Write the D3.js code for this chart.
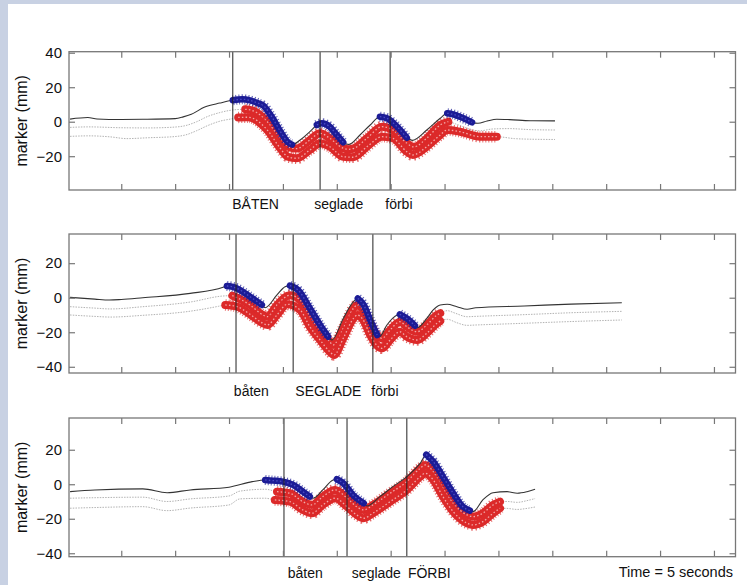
<!DOCTYPE html>
<html>
<head>
<meta charset="utf-8">
<script src="https://cdn.jsdelivr.net/npm/d3@7"></script>
<style>
  html, body { margin: 0; padding: 0; }
  body { width: 747px; height: 585px; overflow: hidden; background: #c8d1e3; }
  text { font-family: "Liberation Sans", Arial, Helvetica, sans-serif; fill: #111; }
</style>
</head>
<body>
<svg id="fig" width="747" height="585"></svg>
<script>
// tick positions (unlabelled time ticks) and y ticks
var xTicks = [1, 2, 3, 4, 5, 6, 7, 8, 9, 10, 11, 12];
var yTicks = [-40, -20, 0, 20, 40];

// ---- panel 1 ----
var p1Top = [[0.05,1.5],[0.38,2.4],[0.55,1.6],[1.0,1.3],[1.4,1.4],[2.0,1.8],[2.15,2.8],[2.3,4.3],[2.55,8.5],[2.83,10.8],[3.07,12.4],[3.25,13.0],[3.39,12.4],[3.55,10.6],[3.63,9.5],[3.8,2.5],[3.95,-5.5],[4.09,-11.8],[4.17,-13.3],[4.32,-10.6],[4.5,-5.8],[4.63,-1.9],[4.72,-0.9],[4.87,-2.9],[5.0,-7.7],[5.12,-12.0],[5.22,-13.2],[5.43,-7.7],[5.62,-1.9],[5.8,2.9],[5.93,2.0],[6.12,-2.9],[6.3,-9.3],[6.4,-10.8],[6.67,-4.8],[6.92,2.0],[7.05,4.9],[7.16,4.3],[7.35,2.0],[7.51,-0.4],[7.62,-0.9],[7.79,0.4],[7.97,1.4],[8.21,1.2],[8.59,0.6],[9.05,0.5]];
var p1Mid = [[0.05,-3.3],[0.4,-3.0],[1.0,-3.5],[1.5,-3.6],[2.0,-3.1],[2.2,-2.2],[2.4,0.0],[2.6,3.0],[2.83,5.3],[3.07,6.8],[3.3,7.2],[3.45,6.3],[3.71,0.0],[3.95,-9.6],[4.12,-14.8],[4.26,-15.6],[4.5,-10.6],[4.69,-6.7],[4.87,-9.6],[5.12,-15.4],[5.22,-16.0],[5.32,-15.4],[5.56,-9.6],[5.84,-2.9],[6.04,-4.8],[6.3,-12.5],[6.43,-14.6],[6.67,-9.6],[6.92,-1.9],[7.07,0.0],[7.2,-1.2],[7.5,-4.6],[7.65,-5.3],[7.9,-4.2],[8.2,-4.0],[8.6,-4.6],[9.05,-4.8]];
var p1Low = [[0.05,-8.5],[0.4,-8.2],[0.8,-8.8],[1.1,-9.8],[1.5,-9.3],[2.0,-8.6],[2.2,-7.6],[2.4,-5.2],[2.6,-2.3],[2.83,0.3],[3.07,1.8],[3.17,2.5],[3.35,2.6],[3.71,-4.8],[3.95,-15.4],[4.09,-20.3],[4.26,-21.2],[4.5,-16.4],[4.69,-12.5],[4.87,-14.5],[5.12,-20.3],[5.3,-20.6],[5.56,-14.5],[5.84,-8.7],[6.04,-9.6],[6.3,-17.4],[6.41,-19.3],[6.67,-14.5],[6.92,-7.7],[7.05,-4.8],[7.29,-5.8],[7.66,-8.7],[7.97,-8.7],[8.3,-9.8],[8.7,-10.2],[9.05,-10.3]];
var p1Blue = [[3.07,4.17],[4.63,5.12],[5.8,6.3],[7.05,7.51]];
var p1RedMid = [3.3, 7.07];
var p1RedLow = [3.17, 7.97];
var p1Events = [3.07, 4.69, 5.99];
var p1Words = ["BÅTEN", "seglade", "förbi"];
var p1WordT = [3.06, 4.58, 5.9];

// ---- panel 2 ----
var p2Top = [[0.05,0.2],[0.51,-0.8],[0.78,-1.3],[1.0,-1.0],[1.4,0.0],[2.28,2.5],[2.89,6.0],[2.96,6.8],[3.05,6.4],[3.15,5.4],[3.39,0.6],[3.61,-4.2],[3.67,-5.8],[3.89,1.6],[4.04,6.4],[4.13,7.0],[4.28,4.5],[4.5,-6.1],[4.69,-15.8],[4.84,-22.6],[4.91,-24.5],[5.12,-12.0],[5.31,-2.3],[5.39,-0.4],[5.5,-4.2],[5.62,-12.9],[5.75,-21.6],[5.79,-22.6],[5.93,-15.8],[6.12,-10.0],[6.17,-9.6],[6.3,-12.0],[6.45,-16.2],[6.49,-17.4],[6.67,-12.0],[6.79,-7.1],[6.92,-4.2],[7.05,-3.8],[7.23,-5.2],[7.42,-6.7],[7.58,-5.8],[8.48,-4.8],[9.35,-3.7],[10.29,-2.9]];
var p2Mid = [[0.05,-5.2],[0.5,-6.0],[0.8,-6.5],[1.4,-5.2],[2.28,-2.5],[2.89,1.0],[3.06,1.2],[3.15,0.0],[3.39,-4.2],[3.63,-10.0],[3.71,-11.0],[3.89,-4.2],[4.13,1.4],[4.32,-1.3],[4.5,-11.0],[4.69,-18.7],[4.87,-25.5],[4.93,-27.4],[5.12,-17.7],[5.31,-6.1],[5.38,-4.2],[5.49,-7.1],[5.62,-15.8],[5.77,-22.6],[5.84,-23.5],[5.99,-18.7],[6.17,-13.9],[6.3,-16.8],[6.49,-19.7],[6.67,-15.8],[6.86,-10.0],[6.92,-9.0],[7.05,-7.5],[7.2,-9.0],[7.42,-11.0],[7.58,-10.8],[8.48,-9.8],[9.35,-8.7],[10.29,-7.9]];
var p2Low = [[0.05,-10.0],[0.5,-10.8],[0.8,-11.2],[1.4,-10.2],[2.28,-7.8],[2.8,-5.0],[2.93,-4.2],[3.15,-5.2],[3.39,-9.6],[3.63,-14.8],[3.71,-15.8],[3.89,-10.0],[4.08,-3.8],[4.32,-7.1],[4.5,-16.8],[4.69,-24.5],[4.87,-31.3],[4.95,-33.2],[5.12,-23.5],[5.31,-12.0],[5.38,-10.0],[5.49,-12.9],[5.62,-21.6],[5.77,-28.4],[5.84,-29.3],[5.99,-24.5],[6.17,-19.7],[6.3,-22.6],[6.49,-24.5],[6.67,-20.6],[6.86,-14.8],[6.92,-13.5],[7.05,-12.5],[7.23,-14.5],[7.42,-16.0],[7.58,-15.8],[8.48,-14.8],[9.35,-13.8],[10.29,-12.9]];
var p2Blue = [[2.96,3.61],[4.13,4.84],[5.39,5.75],[6.17,6.45]];
var p2RedMid = [3.06, 6.92];
var p2RedLow = [2.93, 6.92];
var p2Events = [3.13, 4.19, 5.67];
var p2Words = ["båten", "SEGLADE", "förbi"];
var p2WordT = [3.09, 4.23, 5.64];

// ---- panel 3 ----
var p3Top = [[0.05,-4.3],[0.51,-3.3],[1.4,-2.7],[1.85,-4.9],[2.28,-3.3],[3.0,-1.7],[3.43,1.5],[3.67,2.5],[3.82,2.1],[4.0,1.5],[4.19,-0.4],[4.37,-4.3],[4.5,-7.2],[4.56,-8.1],[4.74,-3.3],[4.93,2.5],[5.0,2.9],[5.12,0.6],[5.3,-6.2],[5.5,-11.0],[5.56,-12.6],[5.8,-7.2],[6.04,-1.4],[6.3,4.4],[6.55,12.2],[6.66,17.2],[6.79,13.1],[6.97,4.4],[7.16,-5.2],[7.34,-13.0],[7.47,-15.3],[7.53,-15.9],[7.71,-9.1],[7.9,-4.9],[8.16,-4.3],[8.35,-5.2],[8.53,-4.3],[8.68,-2.9]];
var p3Mid = [[0.05,-8.1],[0.51,-7.8],[1.4,-7.5],[1.85,-10.0],[2.28,-8.5],[3.0,-6.8],[3.2,-4.0],[3.67,-2.9],[3.89,-4.3],[4.13,-5.2],[4.37,-10.1],[4.54,-12.0],[4.74,-7.2],[4.97,-3.3],[5.19,-8.1],[5.37,-13.0],[5.5,-14.9],[5.67,-12.0],[5.99,-5.2],[6.3,1.5],[6.55,9.3],[6.64,11.2],[6.79,7.3],[6.97,-2.3],[7.16,-11.0],[7.42,-17.8],[7.53,-18.8],[7.71,-16.8],[7.9,-12.0],[8.03,-10.1],[8.16,-10.0],[8.35,-10.5],[8.53,-9.5],[8.68,-8.3]];
var p3Low = [[0.05,-13.9],[0.51,-13.5],[1.4,-13.0],[1.85,-15.3],[2.28,-13.8],[3.0,-12.0],[3.2,-8.5],[3.67,-8.1],[3.85,-9.1],[4.13,-10.1],[4.37,-14.9],[4.54,-16.8],[4.74,-12.0],[4.97,-8.1],[5.19,-13.0],[5.37,-17.8],[5.5,-19.7],[5.67,-16.8],[5.99,-10.1],[6.3,-3.3],[6.55,4.4],[6.64,6.4],[6.79,2.5],[6.97,-7.2],[7.16,-15.9],[7.42,-22.6],[7.53,-23.6],[7.71,-21.7],[7.9,-16.8],[8.03,-13.9],[8.16,-14.0],[8.35,-14.6],[8.53,-14.0],[8.68,-13.2]];
var p3Blue = [[3.67,4.5],[5.0,5.5],[6.66,7.47]];
var p3RedMid = [3.89, 8.03];
var p3RedLow = [3.85, 8.03];
var p3Events = [4.02, 5.19, 6.30];
var p3Words = ["båten", "seglade", "FÖRBI"];
var p3WordT = [4.09, 5.28, 6.32];

var panels = [
  {top: p1Top, mid: p1Mid, low: p1Low, blue: p1Blue, redMid: p1RedMid, redLow: p1RedLow, events: p1Events, words: p1Words, wordT: p1WordT,
   py0: 51.7, py1: 190, dom: [-39.6, 40.6], wordY: 209},
  {top: p2Top, mid: p2Mid, low: p2Low, blue: p2Blue, redMid: p2RedMid, redLow: p2RedLow, events: p2Events, words: p2Words, wordT: p2WordT,
   py0: 234, py1: 373, dom: [-43.6, 36.9], wordY: 396},
  {top: p3Top, mid: p3Mid, low: p3Low, blue: p3Blue, redMid: p3RedMid, redLow: p3RedLow, events: p3Events, words: p3Words, wordT: p3WordT,
   py0: 418, py1: 556.7, dom: [-42.0, 38.4], wordY: 578}
];

var svg = d3.select("#fig");
svg.append("rect").attr("x", 8).attr("y", 4).attr("width", 739).attr("height", 581).attr("fill", "#fff");

var left = 69, right = 735.5;
var x = d3.scaleLinear().domain([0.03, 12.4]).range([left, right]);

function seg(pts, r) {
  return pts.filter(function(d){ return d[0] >= r[0] - 1e-6 && d[0] <= r[1] + 1e-6; });
}

// thick star-ish band: solid core, spiky dashed halo, light dotted centre
function band(g, line, pts, col, core, halo, centre) {
  g.append("path").attr("d", line(pts)).attr("fill", "none")
    .attr("stroke", col).attr("stroke-width", core).attr("stroke-linecap", "round").attr("stroke-linejoin", "round");
  g.append("path").attr("d", line(pts)).attr("fill", "none")
    .attr("stroke", col).attr("stroke-width", halo).attr("stroke-dasharray", "1 2").attr("opacity", 0.7);
  g.append("path").attr("d", line(pts)).attr("fill", "none")
    .attr("stroke", centre).attr("stroke-width", 1.3).attr("stroke-dasharray", "1.5 2.2").attr("opacity", 0.8);
}

panels.forEach(function(p) {
  var y = d3.scaleLinear().domain(p.dom).range([p.py1, p.py0]);
  var g = svg.append("g");
  var line = d3.line().x(function(d){ return x(d[0]); }).y(function(d){ return y(d[1]); }).curve(d3.curveMonotoneX);

  // light dotted traces
  [p.mid, p.low].forEach(function(tr) {
    g.append("path").attr("d", line(tr)).attr("fill", "none")
      .attr("stroke", "#b3b3b3").attr("stroke-width", 1).attr("stroke-dasharray", "1.5 1.2");
  });

  // red marker bands on the lower traces
  band(g, line, seg(p.mid, p.redMid), "#dc2a2a", 8, 11.5, "#f7c9c9");
  band(g, line, seg(p.low, p.redLow), "#dc2a2a", 8, 11.5, "#f7c9c9");

  // main trace
  g.append("path").attr("d", line(p.top)).attr("fill", "none")
    .attr("stroke", "#333").attr("stroke-width", 1.1);

  // blue marker bands
  p.blue.forEach(function(r) {
    band(g, line, seg(p.top, r), "#1c1c96", 6.5, 10, "#5a5ad0");
  });

  // event lines
  g.selectAll(".ev").data(p.events).enter().append("line")
    .attr("x1", function(d){ return x(d); }).attr("x2", function(d){ return x(d); })
    .attr("y1", p.py0).attr("y2", p.py1)
    .attr("stroke", "#222").attr("stroke-width", 1);

  // axes
  var yt = yTicks.filter(function(v){ return v >= p.dom[0] && v <= p.dom[1]; });
  var ax = g.append("g").attr("transform", "translate(" + left + ",0)")
    .call(d3.axisLeft(y).tickValues(yt).tickSizeInner(-6).tickSizeOuter(0).tickPadding(7));
  ax.selectAll("text").style("font-size", "15px").attr("fill", "#111");
  g.append("g").attr("transform", "translate(" + right + ",0)")
    .call(d3.axisRight(y).tickValues(yt).tickSizeInner(-6).tickSizeOuter(0).tickFormat(""));
  g.append("g").attr("transform", "translate(0," + p.py0 + ")")
    .call(d3.axisTop(x).tickValues(xTicks).tickSizeInner(-6).tickSizeOuter(0).tickFormat(""));
  g.append("g").attr("transform", "translate(0," + p.py1 + ")")
    .call(d3.axisBottom(x).tickValues(xTicks).tickSizeInner(-6).tickSizeOuter(0).tickFormat(""));
  g.selectAll(".domain").remove();
  g.selectAll(".tick line").attr("stroke", "#777").attr("stroke-width", 1.2);

  g.append("rect").attr("x", left).attr("y", p.py0).attr("width", right - left).attr("height", p.py1 - p.py0)
    .attr("fill", "none").attr("stroke", "#777").attr("stroke-width", 1.3);

  // y label
  g.append("text")
    .attr("transform", "translate(21," + ((p.py0 + p.py1) / 2) + ") rotate(-90)")
    .attr("text-anchor", "middle").attr("dominant-baseline", "central")
    .style("font-size", "16px").text("marker (mm)");

  // words under the event lines
  g.selectAll(".word").data(p.words).enter().append("text")
    .attr("x", function(d, i){ return x(p.wordT[i]); }).attr("y", p.wordY)
    .style("font-size", "14px").text(function(d){ return d; });
});

svg.append("text").attr("x", 733).attr("y", 577).attr("text-anchor", "end")
  .style("font-size", "14.5px").text("Time = 5 seconds");
</script>
</body>
</html>
